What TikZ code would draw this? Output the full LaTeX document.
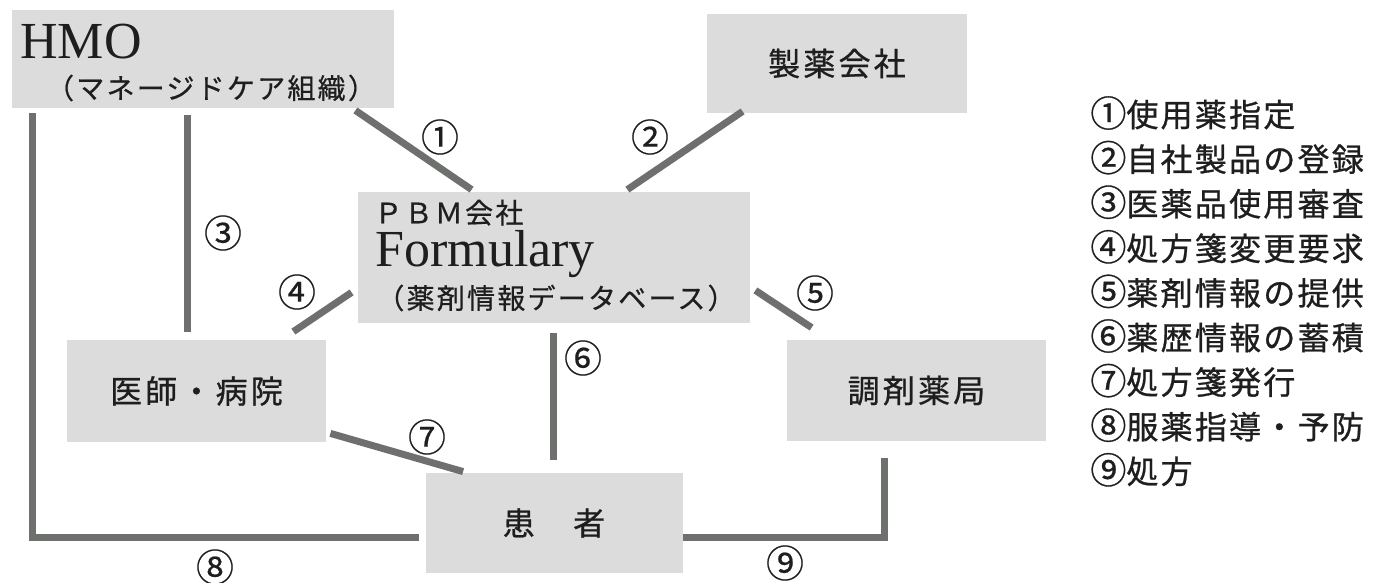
\documentclass[tikz,border=0pt]{standalone}
\usepackage{fontspec}
\setmainfont{Liberation Serif}
\newfontfamily\jpfont[LetterSpace=10,FakeBold=0.8]{Noto Sans CJK JP}
\newfontfamily\jpsub[LetterSpace=8,FakeBold=0.6]{Noto Sans CJK JP}
\newfontfamily\jpleg[LetterSpace=7,FakeBold=0.8]{Noto Sans CJK JP}
\newfontfamily\jpnum[FakeBold=0.4]{Noto Sans CJK JP}
\usetikzlibrary{calc}

\definecolor{boxgray}{RGB}{220,220,220}
\definecolor{linegray}{RGB}{110,112,110}
\definecolor{inkblack}{RGB}{30,30,30}

\tikzset{
box/.style={
  rectangle,
  fill=boxgray,
  draw=none,
  inner sep=0em,
  text=inkblack,
  font=\jpfont\fontsize{16pt}{18pt}\selectfont,
},
txt/.style={
  rectangle,
  draw=none,
  inner sep=0em,
  text=inkblack,
},
num/.style={
  txt,
  font=\jpnum\fontsize{19pt}{20pt}\selectfont,
},
legend/.style={
  txt,
  anchor=west,
  font=\jpleg\fontsize{16pt}{18pt}\selectfont,
},
conn/.style={
  draw=linegray,
  line width=3.5pt,
},
}

\begin{document}
\begin{tikzpicture}[x=0.5pt, y=-0.5pt]
\useasboundingbox (0,0) rectangle (1377,583);

%boxes
\node[box, minimum width=191pt, minimum height=49pt](hmo) at (203,59) {};
\node[txt, anchor=base west, font=\fontsize{26pt}{28pt}\selectfont](hmotitle) at (20,59) {HMO};
\node[txt, font=\jpsub\fontsize{14pt}{16pt}\selectfont](hmosub) at (211,88) {（マネージドケア組織）};

\node[box, minimum width=130pt, minimum height=49.5pt](maker) at (837,63.5) {製薬会社};

\node[box, minimum width=196pt, minimum height=65.5pt](pbm) at (554,257.5) {};
\node[txt, anchor=south west, font=\jpsub\fontsize{14pt}{16pt}\selectfont](pbmtitle) at (374,226) {ＰＢＭ会社};
\node[txt, anchor=base west, text height=17pt, font=\fontsize{26pt}{28pt}\selectfont](formulary) at (375,266) {Formulary};
\node[txt, font=\jpsub\fontsize{14pt}{16pt}\selectfont](pbmsub) at (556,298) {（薬剤情報データベース）};

\node[box, minimum width=129.5pt, minimum height=51pt](doctor) at (196.5,391) {医師・病院};
\node[box, minimum width=129.5pt, minimum height=50.5pt](pharmacy) at (916.5,390.5) {調剤薬局};
\node[box, minimum width=128.5pt, minimum height=50pt](patient) at (554,523) {患　者};

%connectors
\draw[conn] ($(hmo.south east)+(-39,2)$) -- ($(pbm.north west)+(114,-2)$);
\draw[conn] ($(maker.south west)+(36,-2)$) -- ($(pbm.north east)+(-123,-2)$);
\draw[conn] ($(hmo.south west)+(176,7)$) -- ($(doctor.north west)+(121,-8)$);
\draw[conn] ($(pbm.south west)+(-6,-31)$) -- ($(doctor.north east)+(-33,-8)$);
\draw[conn] ($(pbm.south east)+(5,-33)$) -- ($(pharmacy.north west)+(25,-12)$);
\draw[conn] ($(pbm.south)+(-1,10)$) -- ($(patient.north)+(-1,-13)$);
\draw[conn] ($(doctor.south east)+(4,-9)$) -- ($(patient.north west)+(38,-1)$);
\draw[conn] ($(hmo.south west)+(21,5)$) |- ($(patient.west)+(-6,14)$);
\draw[conn] ($(patient.east)+(0,14)$) -| ($(pharmacy.south)+(-32.5,17)$);

%numbers
\node[num](n1) at (440,137) {①};
\node[num](n2) at (650,137) {②};
\node[num](n3) at (223,233) {③};
\node[num](n4) at (297,292) {④};
\node[num](n5) at (815,293) {⑤};
\node[num](n6) at (583,358) {⑥};
\node[num](n7) at (427,437) {⑦};
\node[num](n8) at (215,567) {⑧};
\node[num](n9) at (785,563) {⑨};

%legend
\foreach \n/\entry [count=\i] in {①/使用薬指定, ②/自社製品の登録, ③/医薬品使用審査, ④/処方箋変更要求, ⑤/薬剤情報の提供, ⑥/薬歴情報の蓄積, ⑦/処方箋発行, ⑧/服薬指導・予防, ⑨/処方}
  \node[legend](leg\i) at (1090,{113+44.6*(\i-1)}) {{\fontsize{18pt}{18pt}\selectfont\n}\entry};

\end{tikzpicture}
\end{document}
